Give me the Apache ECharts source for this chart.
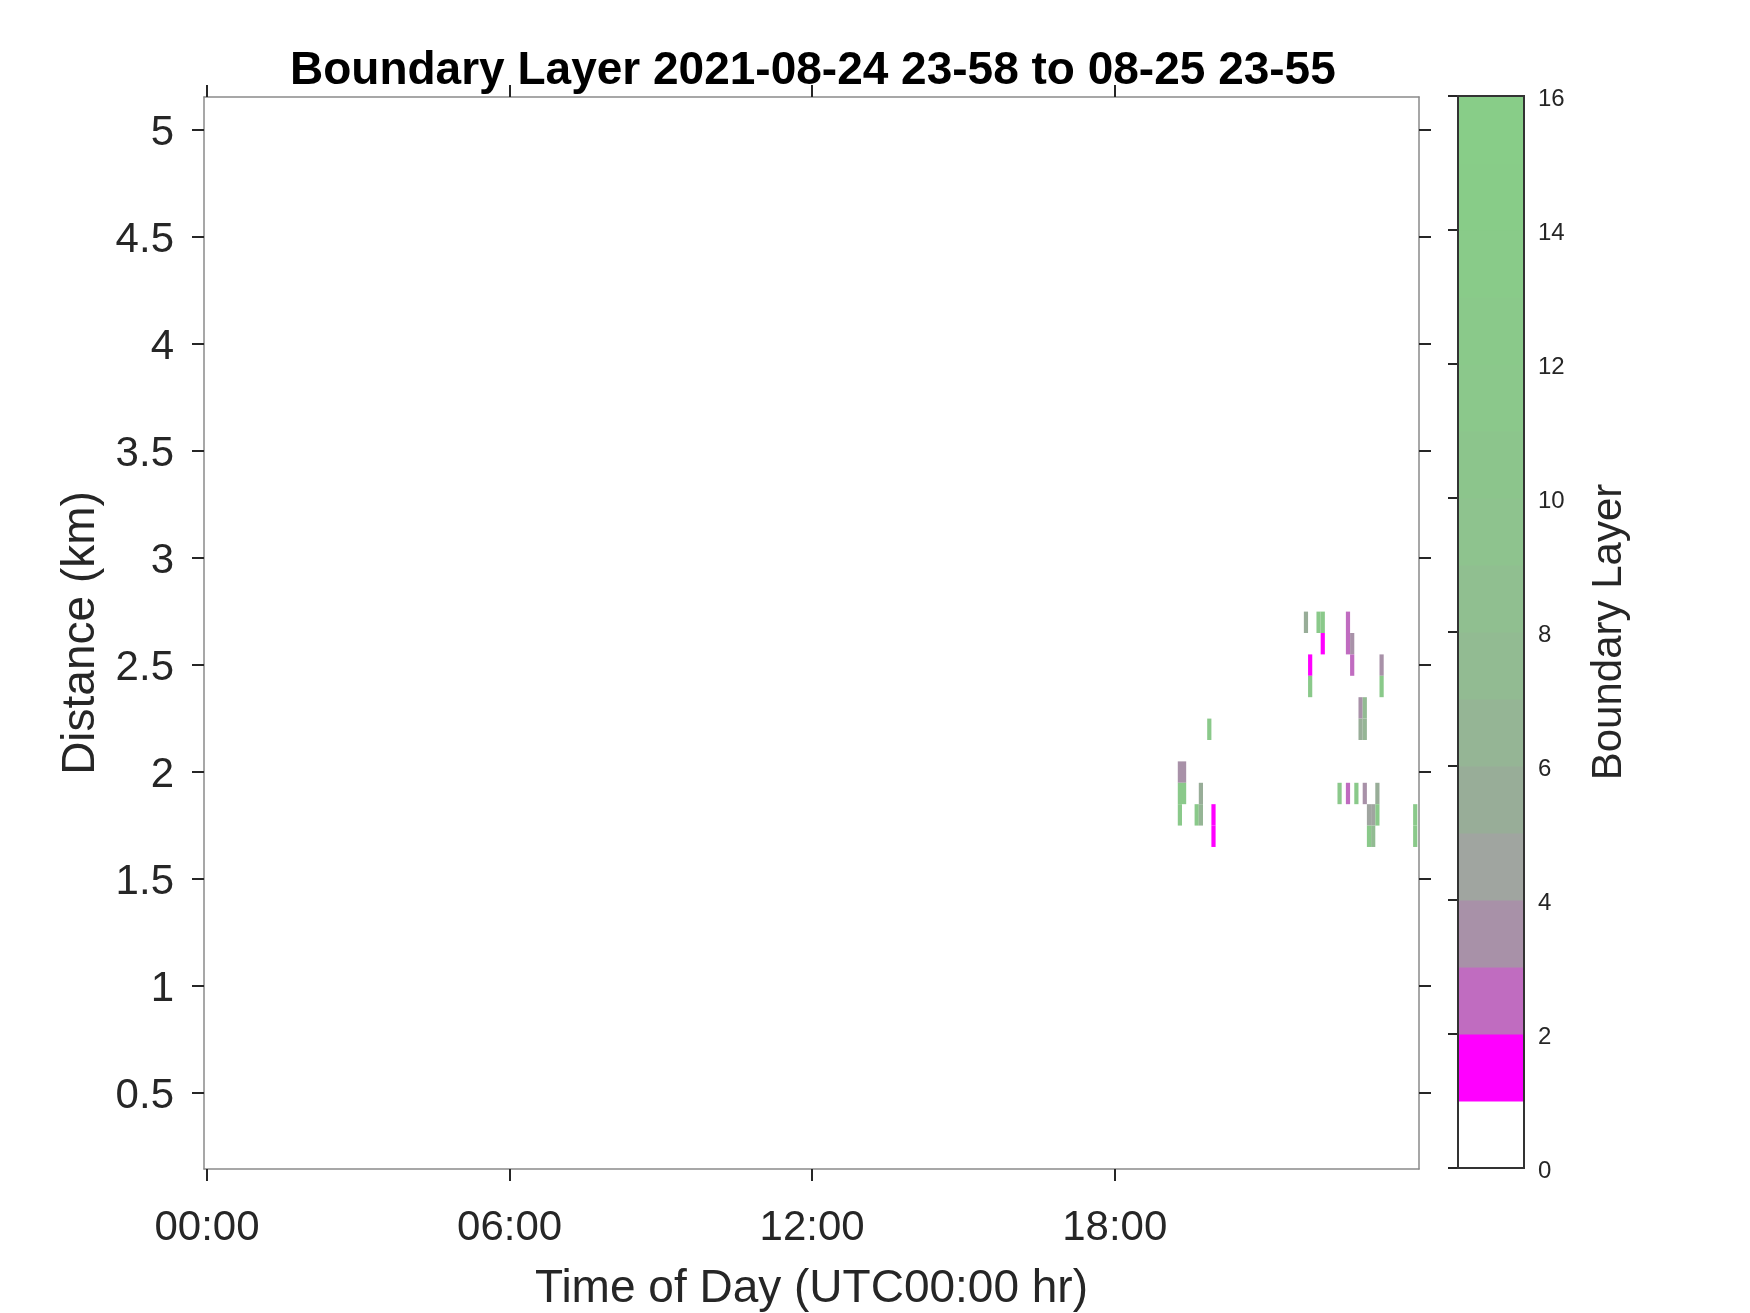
<!DOCTYPE html>
<html>
<head>
<meta charset="utf-8">
<title>Boundary Layer</title>
<script src="https://cdn.jsdelivr.net/npm/echarts@6/dist/echarts.min.js"></script>
<style>
  html, body { margin: 0; padding: 0; background: #fff; }
  #chart { width: 1750px; height: 1313px; }
</style>
</head>
<body>
<div id="chart"></div>
<script>
// time in minutes after 00:00 UTC (cell centres, 5 min bins), height in km (0.1 km bins)
var cellTime = [
  1157.5, 1162.5, 1157.5, 1162.5, 1157.5, 1177.5, 1182.5, 1182.5, 1192.5, 1197.5, 1197.5,
  1307.5, 1312.5, 1312.5, 1322.5, 1327.5, 1327.5, 1357.5, 1357.5, 1362.5, 1362.5,
  1372.5, 1372.5, 1377.5, 1377.5, 1397.5, 1397.5,
  1347.5, 1357.5, 1367.5, 1377.5, 1382.5, 1382.5, 1387.5, 1387.5, 1392.5, 1392.5,
  1437.5, 1437.5
]
var cellHeight = [
  2.0, 2.0, 1.9, 1.9, 1.8, 1.8, 1.9, 1.8, 2.2, 1.8, 1.7,
  2.7, 2.5, 2.4, 2.7, 2.7, 2.6, 2.7, 2.6, 2.6, 2.5,
  2.3, 2.2, 2.3, 2.2, 2.5, 2.4,
  1.9, 1.9, 1.9, 1.9, 1.8, 1.7, 1.8, 1.7, 1.9, 1.8,
  1.8, 1.7
]
var cellLevel = [
  3, 3, 12, 12, 12, 12, 5, 6, 12, 1, 1,
  5, 1, 12, 12, 12, 1, 2, 2, 3, 2,
  3, 5, 7, 6, 3, 12,
  11, 2, 12, 3, 4, 12, 4, 7, 5, 12,
  12, 12
]

var xTickValues = [0, 360, 720, 1080]
var xTickLabels = ['00:00', '06:00', '12:00', '18:00']
var yTickValues = [0.5, 1, 1.5, 2, 2.5, 3, 3.5, 4, 4.5, 5]
var yTickLabels = ['0.5', '1', '1.5', '2', '2.5', '3', '3.5', '4', '4.5', '5']

// colour of each unit step of the colour bar, 0..16
var levelColors = [
  '#ffffff', '#ff00ff', '#c06cc0', '#a891a8', '#a0a5a0', '#98ad98', '#95b595', '#92bb92',
  '#90bf90', '#8ec38e', '#8cc58c', '#8bc88b', '#8ac98a', '#89cb89', '#88cc88', '#88cd88'
]
var cbarTicks = [0, 2, 4, 6, 8, 10, 12, 14, 16]

var cellMinutes = 5
var cellKm = 0.1
var font = 'Liberation Sans, Arial, Helvetica, sans-serif'
var textColor = '#262626'
var boxColor = '#8a8a8a'

var cells = cellTime.map(function (t, i) {
  return [t, cellHeight[i], cellLevel[i]]
})
var cbarData = levelColors.map(function (c, i) {
  return [i]
})

function renderCell (params, api) {
  var t = api.value(0)
  var h = api.value(1)
  var lv = Math.floor(api.value(2))
  var p0 = api.coord([t - cellMinutes / 2, h + cellKm / 2])
  var p1 = api.coord([t + cellMinutes / 2, h - cellKm / 2])
  return {
    type: 'rect',
    shape: {x: p0[0], y: p0[1], width: p1[0] - p0[0], height: p1[1] - p0[1]},
    style: {fill: levelColors[Math.min(lv, levelColors.length - 1)]}
  }
}

function renderBand (params, api) {
  var lv = api.value(0)
  var p0 = api.coord([0, lv + 1])
  var p1 = api.coord([1, lv])
  return {
    type: 'rect',
    shape: {x: p0[0], y: p0[1], width: p1[0] - p0[0], height: p1[1] - p0[1] + 0.5},
    style: {fill: levelColors[lv]}
  }
}

function edgeAxis (pos, isX) {
  var ax = {
    type: 'value',
    gridIndex: 0,
    position: pos,
    min: isX ? -3.6 : 0.145,
    max: isX ? 1442 : 5.155,
    axisLine: {show: true, onZero: false, lineStyle: {color: boxColor, width: 1.5}},
    axisTick: {
      show: true,
      inside: false,
      length: 12,
      customValues: isX ? xTickValues : yTickValues,
      lineStyle: {color: textColor, width: 2}
    },
    axisLabel: {show: false},
    splitLine: {show: false}
  }
  return ax
}

var chart = echarts.init(document.getElementById('chart'), null, {renderer: 'canvas'})

var xBottom = edgeAxis('bottom', true)
xBottom.axisLabel = {
  show: true,
  customValues: xTickValues,
  formatter: function (v) {
    var i = xTickValues.indexOf(v)
    return i >= 0 ? xTickLabels[i] : ''
  },
  margin: 38,
  fontSize: 42,
  fontFamily: font,
  color: textColor
}
xBottom.name = 'Time of Day (UTC00:00 hr)'
xBottom.nameLocation = 'middle'
xBottom.nameGap = 97
xBottom.nameTextStyle = {fontSize: 46, fontFamily: font, color: textColor}

var yLeft = edgeAxis('left', false)
yLeft.axisLabel = {
  show: true,
  customValues: yTickValues,
  formatter: function (v) {
    for (var i = 0; i < yTickValues.length; i++) {
      if (Math.abs(yTickValues[i] - v) < 1e-6) return yTickLabels[i]
    }
    return ''
  },
  margin: 30,
  verticalAlign: 'top',
  lineHeight: 6,
  fontSize: 42,
  fontFamily: font,
  color: textColor
}
yLeft.name = 'Distance (km)'
yLeft.nameLocation = 'middle'
yLeft.nameGap = 98
yLeft.nameTextStyle = {fontSize: 46, fontFamily: font, color: textColor}

var option = {
  backgroundColor: '#ffffff',
  animation: false,
  title: {
    text: 'Boundary Layer 2021-08-24 23-58 to 08-25 23-55',
    left: 285,
    top: 43,
    textStyle: {fontSize: 46, fontWeight: 'bold', fontFamily: font, color: '#000000'}
  },
  grid: [
    {left: 204, top: 97, width: 1215, height: 1072, show: false, outerBoundsMode: 'none'},
    {left: 1458, top: 96, width: 66, height: 1072, show: true, outerBoundsMode: 'none',
      borderColor: '#333333', borderWidth: 2, backgroundColor: 'transparent', z: 5}
  ],
  xAxis: [
    xBottom,
    edgeAxis('top', true),
    {type: 'value', gridIndex: 1, min: 0, max: 1, show: false}
  ],
  yAxis: [
    yLeft,
    edgeAxis('right', false),
    {
      type: 'value',
      gridIndex: 1,
      position: 'right',
      min: 0,
      max: 16,
      interval: 2,
      axisLine: {show: false},
      axisTick: {show: true, inside: true, length: 10, lineStyle: {color: textColor, width: 2}},
      axisLabel: {
        margin: 14,
        verticalAlign: 'top',
        lineHeight: 7,
        fontSize: 24,
        fontFamily: font,
        color: textColor,
        formatter: function (v) {
          return cbarTicks.indexOf(v) >= 0 ? String(v) : ''
        }
      },
      splitLine: {show: false},
      name: 'Boundary Layer',
      nameLocation: 'middle',
      nameRotate: 90,
      nameGap: 64,
      nameTextStyle: {fontSize: 42, fontFamily: font, color: textColor}
    }
  ],
  series: [
    {
      type: 'custom',
      name: 'Boundary Layer',
      xAxisIndex: 0,
      yAxisIndex: 0,
      renderItem: renderCell,
      clip: true,
      silent: true,
      data: cells
    },
    {
      type: 'custom',
      name: 'colorbar',
      xAxisIndex: 2,
      yAxisIndex: 2,
      renderItem: renderBand,
      silent: true,
      data: cbarData
    }
  ]
}

chart.setOption(option)
</script>
</body>
</html>
